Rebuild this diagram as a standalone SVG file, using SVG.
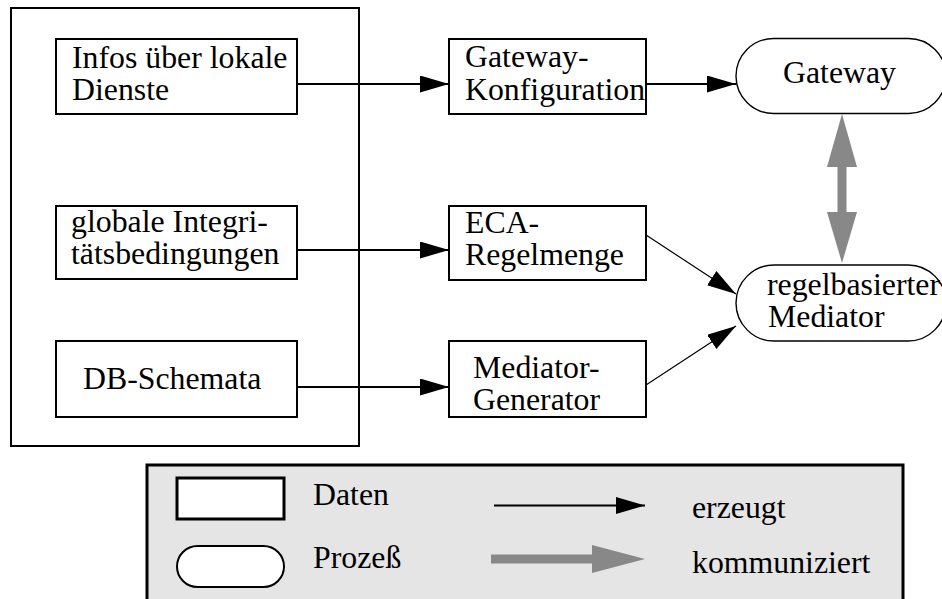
<svg xmlns="http://www.w3.org/2000/svg" width="942" height="599" viewBox="0 0 942 599">
<style>
.t{font-family:'Liberation Serif','DejaVu Serif',serif;font-size:31.8px;fill:#000}
.box{fill:#fff;stroke:#000;stroke-width:2}
.proc{fill:#fff;stroke:#000;stroke-width:1.4}
.ln{stroke:#000;stroke-width:2;fill:none}
.dl{stroke:#000;stroke-width:1.2;fill:none}
</style>
<defs>
<marker id="ah" markerUnits="userSpaceOnUse" markerWidth="30" markerHeight="18" refX="29" refY="8.5" orient="auto">
<path d="M0,0 L29,8.5 L0,17 z" fill="#000"/>
</marker>
</defs>
<g class="t">
<rect id="container" x="11" y="8" width="348" height="438" fill="none" stroke="#000" stroke-width="2"/>
<g id="legend">
<rect x="147" y="465" width="756" height="140" fill="#e5e5e5" stroke="#000" stroke-width="3"/>
<rect x="177" y="478" width="107" height="41" fill="#fff" stroke="#000" stroke-width="3"/>
<text x="313" y="505">Daten</text>
<rect x="177" y="546" width="107" height="41" rx="20.5" fill="#fff" stroke="#000" stroke-width="2"/>
<text x="313" y="568">Prozeß</text>
<line x1="494" y1="505.5" x2="645" y2="505.5" class="ln" marker-end="url(#ah)"/>
<text x="692" y="518">erzeugt</text>
<polygon points="491,554.5 592,554.5 592,545 645,559 592,573 592,563.5 491,563.5" fill="#888"/>
<text x="692" y="573">kommuniziert</text>
</g>
<g id="connectors">
<line x1="297" y1="84" x2="449" y2="84" class="ln" marker-end="url(#ah)"/>
<line x1="297" y1="250" x2="449" y2="250" class="ln" marker-end="url(#ah)"/>
<line x1="297" y1="387" x2="449" y2="387" class="ln" marker-end="url(#ah)"/>
<line x1="646" y1="84" x2="736" y2="84" class="ln" marker-end="url(#ah)"/>
<line x1="646" y1="235" x2="736" y2="294" class="dl" marker-end="url(#ah)"/>
<line x1="646" y1="385" x2="736" y2="326" class="dl" marker-end="url(#ah)"/>
<polygon points="842,114 857,167 846.5,167 846.5,212 857,212 842,263 827,212 837.5,212 837.5,167 827,167" fill="#888"/>
</g>
<g id="infos">
<rect x="56" y="39" width="241" height="75" class="box"/>
<text x="72" y="68">Infos über lokale</text>
<text x="72" y="100">Dienste</text>
</g>
<g id="integritaet">
<rect x="56" y="206" width="241" height="73" class="box"/>
<text x="71" y="232">globale Integri-</text>
<text x="71" y="264">tätsbedingungen</text>
</g>
<g id="schemata">
<rect x="56" y="341" width="241" height="76" class="box"/>
<text x="83" y="389">DB-Schemata</text>
</g>
<g id="gwkonfig">
<rect x="449" y="39" width="197" height="75" class="box"/>
<text x="465" y="67">Gateway-</text>
<text x="465" y="100">Konfiguration</text>
</g>
<g id="eca">
<rect x="449" y="206" width="197" height="74" class="box"/>
<text x="465" y="233">ECA-</text>
<text x="465" y="265">Regelmenge</text>
</g>
<g id="medgen">
<rect x="449" y="341" width="197" height="76" class="box"/>
<text x="473" y="378">Mediator-</text>
<text x="473" y="410">Generator</text>
</g>
<g id="gateway">
<rect x="736" y="38.5" width="210" height="75" rx="37.5" class="proc"/>
<text x="783" y="83">Gateway</text>
</g>
<g id="mediator">
<rect x="736" y="265" width="210" height="76" rx="38" class="proc"/>
<text x="767" y="295">regelbasierter</text>
<text x="768" y="327">Mediator</text>
</g>
</g>
</svg>
